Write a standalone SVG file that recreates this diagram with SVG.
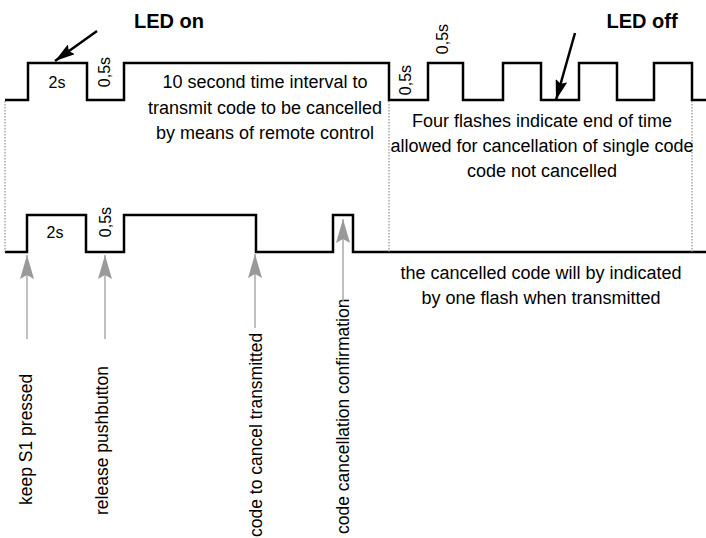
<svg xmlns="http://www.w3.org/2000/svg" width="706" height="538" viewBox="0 0 706 538">
<style>
text{font-family:"Liberation Sans",Arial,sans-serif;fill:#000}
.t{font-size:18px;text-anchor:middle}
.s{font-size:16px;text-anchor:middle}
.r{font-size:17.5px}
.b{font-size:20px;font-weight:bold;text-anchor:middle}
.w{fill:none;stroke:#000;stroke-width:2.5;stroke-linejoin:miter}
.d{fill:none;stroke:#777;stroke-width:1;stroke-dasharray:1.5 1.5}
.g{stroke:#aaa;stroke-width:1.5;fill:none}
.k{stroke:#000;stroke-width:2.5;fill:none}
</style>
<defs>
<marker id="ga" viewBox="0 0 24 14" markerWidth="24" markerHeight="14" refX="24" refY="7" orient="auto" markerUnits="userSpaceOnUse">
<path d="M0,0 L24,7 L0,14 L4,7 Z" fill="#999"/>
</marker>
<marker id="ka" viewBox="0 0 20 12" markerWidth="20" markerHeight="12" refX="20" refY="6" orient="auto" markerUnits="userSpaceOnUse">
<path d="M0,0 L20,6 L0,12 L3,6 Z" fill="#000"/>
</marker>
</defs>
<g id="waveforms">
<path class="w" d="M5,100 H28 V63 H87 V100 H124 V63 H389 V100 H428 V63 H463 V100 H503 V63 H541 V100 H579 V63 H617 V100 H654 V63 H692 V100 H706"/>
<path class="w" d="M5,252 H27 V215 H86 V252 H124 V215 H256 V252 H333 V215 H353 V252 H706"/>
<path class="d" d="M5,101 V252 M389,101 V252 M692,101 V252"/>
</g>
<g id="top-labels">
<text class="b" x="169" y="28">LED on</text>
<text class="b" x="642" y="28">LED off</text>
<text class="s" x="57" y="88">2s</text>
<text class="s" transform="translate(110,72) rotate(-90)">0,5s</text>
<text class="s" transform="translate(411,80) rotate(-90)">0,5s</text>
<text class="s" transform="translate(448,39) rotate(-90)">0,5s</text>
<text class="t" x="265" y="88">10 second time interval to</text>
<text class="t" x="265" y="114">transmit code to be cancelled</text>
<text class="t" x="265" y="139">by means of remote control</text>
<text class="t" x="542" y="127">Four flashes indicate end of time</text>
<text class="t" x="542" y="152">allowed for cancellation of single code</text>
<text class="t" x="542" y="177">code not cancelled</text>
</g>
<g id="bottom-labels">
<text class="s" x="55" y="238">2s</text>
<text class="s" transform="translate(111,222) rotate(-90)">0,5s</text>
<text class="t" x="541" y="279">the cancelled code will by indicated</text>
<text class="t" x="541" y="304">by one flash when transmitted</text>
<text class="r" transform="translate(32,505) rotate(-90)">keep S1 pressed</text>
<text class="r" transform="translate(108,515) rotate(-90)">release pushbutton</text>
<text class="r" transform="translate(262,537) rotate(-90)">code to cancel transmitted</text>
<text class="r" transform="translate(349,534) rotate(-90)">code cancellation confirmation</text>
</g>
<g id="connectors">
<line class="k" x1="97" y1="31" x2="55" y2="61" marker-end="url(#ka)"/>
<line class="k" x1="575" y1="33" x2="556" y2="100" marker-end="url(#ka)"/>
<line class="g" x1="27" y1="339" x2="27" y2="255" marker-end="url(#ga)"/>
<line class="g" x1="105" y1="339" x2="105" y2="255" marker-end="url(#ga)"/>
<line class="g" x1="255" y1="328" x2="255" y2="254" marker-end="url(#ga)"/>
<line class="g" x1="343" y1="302" x2="343" y2="219" marker-end="url(#ga)"/>
</g>
</svg>
